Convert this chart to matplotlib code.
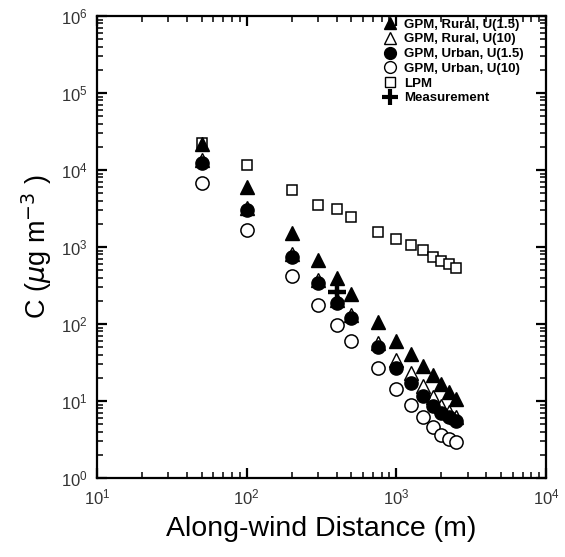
import matplotlib.pyplot as plt
from matplotlib.lines import Line2D
from matplotlib.ticker import NullFormatter

plt.rcParams['font.family'] = ['Liberation Sans', 'DejaVu Sans']

# distances (m)
dist = [50, 100, 200, 300, 400, 500, 750, 1000, 1250, 1500, 1750, 2000, 2250, 2500]

# concentrations (ug m-3)
rural_u15 = [22000, 6000, 1500, 680, 400, 245, 106, 60, 41, 28.5, 21.5, 16.5, 13, 10.6]
rural_u10 = [13500, 3200, 820, 370, 205, 130, 57, 34, 23, 15.6, 11.3, 8.6, 7.2, 6.2]
urban_u15 = [12400, 3000, 750, 340, 187, 118, 50, 27, 17, 11.7, 8.6, 7.0, 6.2, 5.5]
urban_u10 = [6700, 1660, 420, 177, 97, 60, 27, 14.4, 8.9, 6.2, 4.6, 3.6, 3.2, 2.95]
lpm = [22500, 11500, 5500, 3500, 3100, 2450, 1570, 1260, 1060, 920, 745, 660, 600, 535]

meas_x = [400]
meas_y = [260]

labels = ['GPM, Rural, U(1.5)', 'GPM, Rural, U(10)', 'GPM, Urban, U(1.5)',
          'GPM, Urban, U(10)', 'LPM', 'Measurement']

fig = plt.figure(figsize=(5.65, 5.57), dpi=100)
ax = fig.add_axes([97/565, 1 - 478/557, 449/565, 462/557])

ax.plot(dist, lpm, ls='none', marker='s', ms=7.5, mfc='white', mec='black', mew=1.1)
ax.plot(dist, urban_u10, ls='none', marker='o', ms=9.5, mfc='white', mec='black', mew=1.1)
ax.plot(dist, rural_u10, ls='none', marker='^', ms=9.5, mfc='white', mec='black', mew=1.0)
ax.plot(dist, urban_u15, ls='none', marker='o', ms=9.5, mfc='black', mec='black')
ax.plot(dist, rural_u15, ls='none', marker='^', ms=9.5, mfc='black', mec='black')
ax.plot(meas_x, meas_y, ls='none', marker='+', ms=13, mec='black', mew=3.2)

ax.set_xscale('log')
ax.set_yscale('log')
ax.set_xlim(10, 1e4)
ax.set_ylim(1, 1e6)

for s in ax.spines.values():
    s.set_linewidth(1.6)
ax.tick_params(which='both', direction='in', top=True, right=True, width=1.1,
               labelsize=12, labelcolor='#333333', pad=7)
ax.tick_params(which='major', length=7, width=1.6)
ax.tick_params(which='minor', length=4.5)
ax.yaxis.set_minor_locator(plt.LogLocator(base=10, subs=range(2, 10), numticks=20))
ax.xaxis.set_minor_locator(plt.LogLocator(base=10, subs=range(2, 10), numticks=20))
ax.xaxis.set_minor_formatter(NullFormatter())
ax.yaxis.set_minor_formatter(NullFormatter())

ax.set_xlabel('Along-wind Distance (m)', fontsize=20.5, labelpad=6)
ax.set_ylabel(r'C ($\mu$g m$^{-3}$ )', fontsize=19.5, labelpad=5)

handles = [
    Line2D([], [], ls='none', marker='^', ms=8.5, mfc='black', mec='black'),
    Line2D([], [], ls='none', marker='^', ms=8.5, mfc='white', mec='black'),
    Line2D([], [], ls='none', marker='o', ms=8.5, mfc='black', mec='black'),
    Line2D([], [], ls='none', marker='o', ms=8.5, mfc='white', mec='black'),
    Line2D([], [], ls='none', marker='s', ms=7.5, mfc='white', mec='black'),
    Line2D([], [], ls='none', marker='+', ms=12, mec='black', mew=3),
]
ax.legend(handles, labels, loc='upper left', bbox_to_anchor=(0.625, 1.006),
          frameon=False, handlelength=1.0, handletextpad=0.6, labelspacing=0.19,
          borderaxespad=0, prop={'family': ['Liberation Sans Narrow', 'Liberation Sans'],
                                 'weight': 'bold', 'size': 9.5})

fig.savefig('out.png')
